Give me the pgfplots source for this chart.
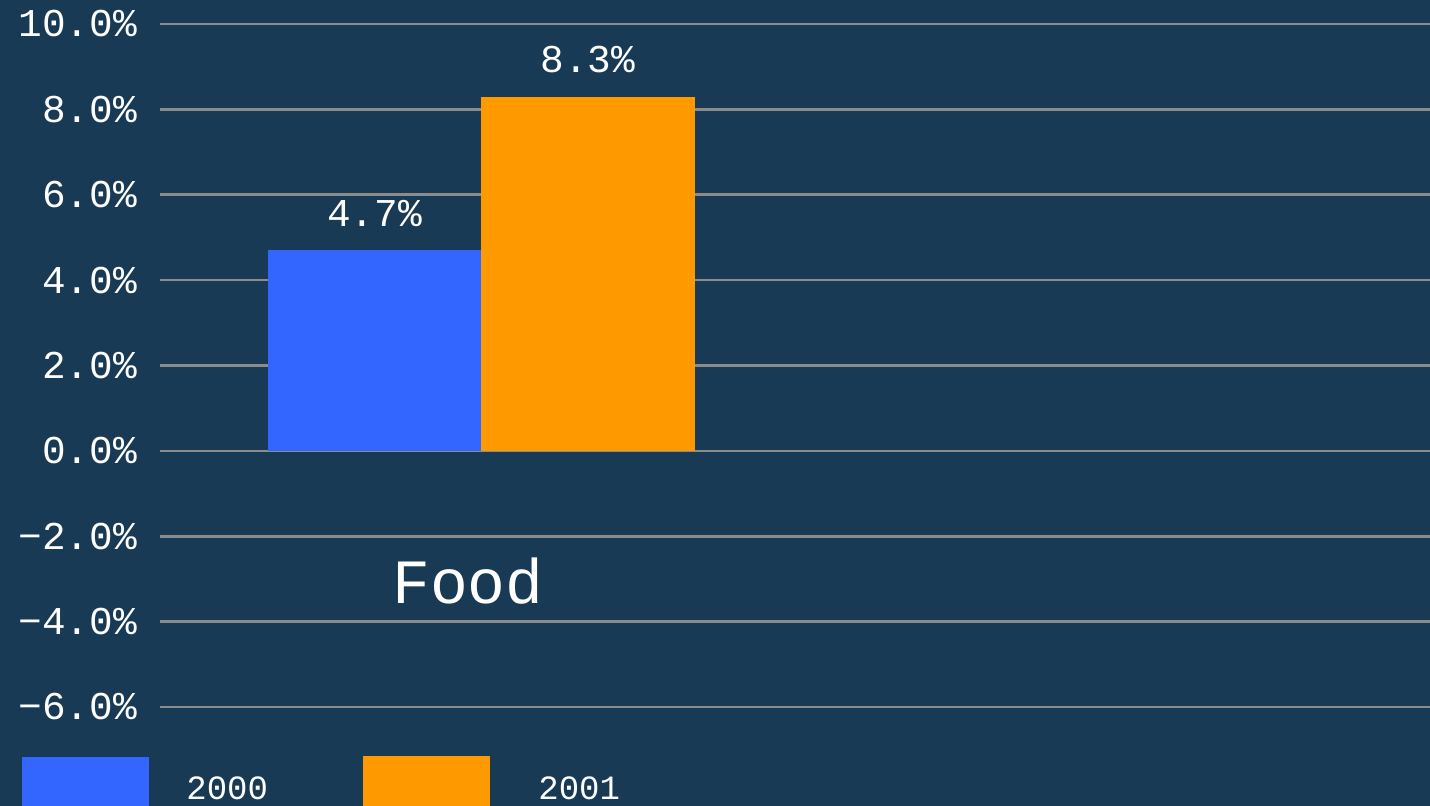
\documentclass[border=0pt]{standalone}
\usepackage{fontspec}
\setmainfont{Liberation Mono}
\usepackage{pgfplots}
\pgfplotsset{compat=1.18}
\definecolor{bgnavy}{RGB}{24,58,85}
\definecolor{gridgray}{RGB}{140,140,140}
\definecolor{bar2000}{RGB}{51,102,255}
\definecolor{bar2001}{RGB}{255,153,0}

\begin{document}
\begin{tikzpicture}
\clip (0,0) rectangle (715pt,403pt);
\fill[bgnavy] (0,0) rectangle (715pt,403pt);
\begin{axis}[
    at={(80pt,49.5pt)}, anchor=south west,
    scale only axis,
    width=635pt, height=341.5pt,
    xmin=0, xmax=1270,
    ymin=-6, ymax=10,
    axis line style={draw=none},
    major tick length=0pt,
    xtick=\empty,
    ytick={-6,-4,...,10},
    yticklabels={−6.0\%,−4.0\%,−2.0\%,0.0\%,2.0\%,4.0\%,6.0\%,8.0\%,10.0\%},
    yticklabel style={font=\fontsize{19.7}{24}\selectfont, text=white, anchor=east, xshift=-8pt},
    ymajorgrids,
    grid style={gridgray, line width=1.3pt},
    ybar, bar width=214, bar shift=0pt,
    nodes near coords={\pgfmathprintnumber[fixed,precision=1,fixed zerofill,assume math mode=true]{\pgfplotspointmeta}\%},
    every node near coord/.append style={font=\fontsize{19.7}{24}\selectfont, text=white, anchor=base, yshift=12pt, inner sep=0pt},
    clip=false,
]
\addplot[fill=bar2000, draw=none] coordinates {(214.5,4.7)};
\addplot[fill=bar2001, draw=none] coordinates {(428,8.3)};
\node[font=\fontsize{31.5}{36}\selectfont, text=white, anchor=base] at (axis cs:308,-3.58) {Food};
\end{axis}
% legend
\fill[bar2000] (11pt,-10pt) rectangle (74.5pt,24.5pt);
\node[font=\fontsize{17}{20}\selectfont, text=white, anchor=base west, inner sep=0pt] at (93pt,3pt) {2000};
\fill[bar2001] (181.5pt,-10pt) rectangle (245pt,25pt);
\node[font=\fontsize{17}{20}\selectfont, text=white, anchor=base west, inner sep=0pt] at (269pt,3pt) {2001};
\end{tikzpicture}
\end{document}
